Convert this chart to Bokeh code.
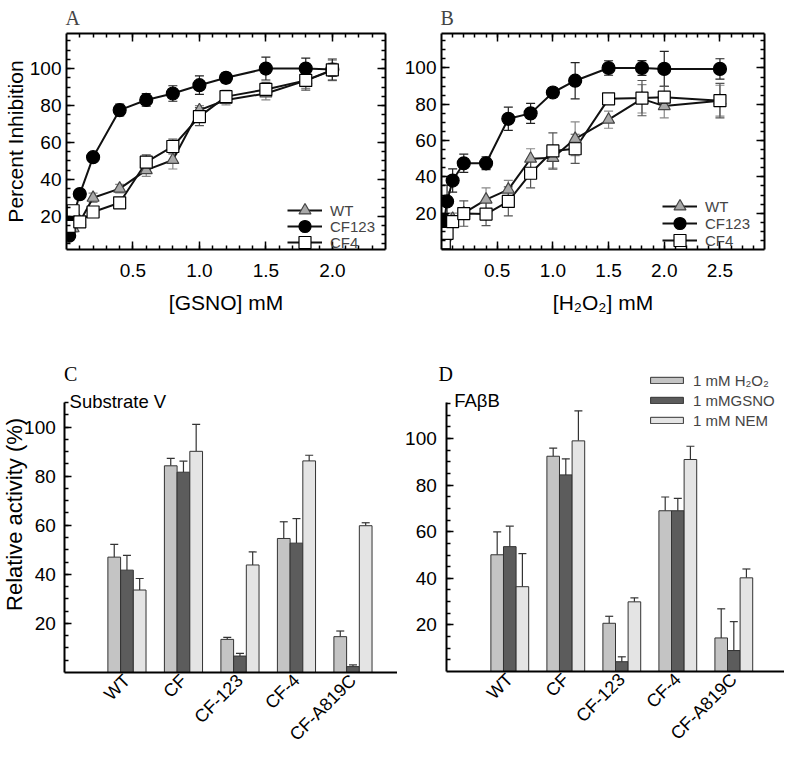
import math
from bokeh.plotting import figure
from bokeh.models import (ColumnDataSource, Whisker, LinearAxis, FixedTicker, Range1d,
                          Legend, LegendItem, Label, CustomJSTickFormatter, TeeHead,
                          PrintfTickFormatter)
from bokeh.layouts import column, row
from bokeh.transform import dodge
from bokeh.embed import file_html
from bokeh.resources import INLINE

# ---------------- data ----------------
# Panel A: [GSNO] mM
a_wt_x = [0.02, 0.05, 0.1, 0.2, 0.4, 0.6, 0.8, 1.0, 1.2, 1.5, 1.8, 2.0]
a_wt_y = [11, 13.5, 17, 30, 35, 45, 50.5, 77.5, 83, 86.5, 93.5, 99]
a_wt_e = [2, 2, 2, 2.5, 2.3, 3.4, 4.9, 2.4, 2.7, 3.5, 4.2, 5.5]
a_cf123_x = [0.02, 0.05, 0.1, 0.2, 0.4, 0.6, 0.8, 1.0, 1.2, 1.5, 1.8, 2.0]
a_cf123_y = [9.5, 19.5, 32, 52, 77.5, 83, 86.5, 91, 95, 100, 100, 99.5]
a_cf123_e = [2, 1.5, 1.5, 1.5, 3.2, 3.4, 4.2, 5, 2.8, 6.2, 5.7, 5.7]
a_cf4_x = [0.02, 0.05, 0.1, 0.2, 0.4, 0.6, 0.8, 1.0, 1.2, 1.5, 1.8, 2.0]
a_cf4_y = [14.5, 23, 17, 22.3, 27.3, 49.3, 57.8, 74, 84.8, 88.7, 93.6, 99.3]
a_cf4_e = [1.5, 2.5, 2, 2.8, 2.7, 4, 4, 4.9, 3.4, 3.8, 5.3, 3.5]

# Panel B: [H2O2] mM
b_wt_x = [0.025, 0.05, 0.1, 0.2, 0.4, 0.6, 0.8, 1.0, 1.2, 1.5, 1.8, 2.0, 2.5]
b_wt_y = [12, 15, 17, 20, 27.5, 33, 50, 50.5, 61, 71.5, 83, 79, 82]
b_wt_e = [3, 3, 3, 3, 6.4, 5.1, 5.5, 5.6, 9.3, 4.7, 7.8, 6.5, 8.5]
b_cf123_x = [0.025, 0.05, 0.1, 0.2, 0.4, 0.6, 0.8, 1.0, 1.2, 1.5, 1.8, 2.0, 2.5]
b_cf123_y = [16, 26.5, 38, 47.5, 47.5, 72, 75, 86.5, 93, 100, 100, 99.5, 99.5]
b_cf123_e = [3, 9, 6.4, 5, 3.5, 6.4, 5.5, 2.6, 10, 4, 4.1, 9.6, 5.6]
b_cf4_x = [0.025, 0.05, 0.1, 0.2, 0.4, 0.6, 0.8, 1.0, 1.2, 1.5, 1.8, 2.0, 2.5]
b_cf4_y = [3.6, 8.9, 15.4, 19.8, 19.5, 26.5, 42, 54.3, 55.5, 83, 83.4, 83.9, 82]
b_cf4_e = [2, 4, 3, 7, 6.4, 8, 8, 10, 8, 1.5, 9.7, 6, 9.5]

# Panels C and D: relative activity (%)
categories = ["WT", "CF", "CF-123", "CF-4", "CF-A819C"]
treatments = ["1 mM H\u2082O\u2082", "1 mMGSNO", "1 mM NEM"]
c_h2o2 = [47, 84.2, 13.5, 54.6, 14.6]
c_h2o2_e = [5.2, 3, 0.8, 6.8, 2.3]
c_gsno = [41.7, 81.6, 6.7, 52.7, 2.4]
c_gsno_e = [6, 4.5, 1.1, 10, 0.7]
c_nem = [33.6, 90.1, 43.8, 86.2, 59.8]
c_nem_e = [4.7, 11, 5.3, 2.3, 1.2]
d_h2o2 = [50.1, 92.4, 20.7, 69, 14.4]
d_h2o2_e = [9.8, 3.5, 3, 5.9, 12.5]
d_gsno = [53.6, 84.4, 4.2, 69, 9]
d_gsno_e = [8.8, 6.9, 2.1, 5.3, 12.4]
d_nem = [36.4, 99, 29.9, 91, 40.2]
d_nem_e = [14.2, 12.9, 1.7, 5.7, 3.8]

# ticks
y_major = [20, 40, 60, 80, 100]
y_minor_ab = list(range(5, 120, 5))
y_minor_c = list(range(5, 111, 5))
y_minor_d = list(range(5, 116, 5))
a_x_major = [0.5, 1.0, 1.5, 2.0]
a_x_minor = [round(0.1 * i, 1) for i in range(1, 24)]
b_x_major = [0.5, 1.0, 1.5, 2.0, 2.5]
b_x_minor = [round(0.1 * i, 1) for i in range(1, 29)]

SANS = "Liberation Sans"
SERIF = "Liberation Serif"


def style_axis(ax, labels=True, tick_size="19px"):
    ax.axis_line_width = 2
    ax.axis_line_color = "black"
    ax.major_tick_in = 8
    ax.major_tick_out = 0
    ax.minor_tick_in = 4
    ax.minor_tick_out = 0
    ax.major_tick_line_width = 1.5
    ax.minor_tick_line_width = 1.5
    ax.major_tick_line_color = "black"
    ax.minor_tick_line_color = "black"
    ax.major_label_text_font = SANS
    ax.major_label_text_font_size = tick_size
    ax.major_label_text_color = "black"
    ax.axis_label_text_font = SANS
    ax.axis_label_text_font_style = "normal"
    ax.axis_label_text_font_size = "21px"
    ax.axis_label_text_color = "black"
    if not labels:
        ax.formatter = CustomJSTickFormatter(code="return ''")
        ax.major_label_standoff = 0


def make_legend(items, loc, **kw):
    return Legend(items=items, location=loc, padding=0, margin=0, spacing=0,
                  label_text_font=SANS, label_text_font_size="15px",
                  border_line_color=None, background_fill_color=None,
                  background_fill_alpha=0, inactive_fill_alpha=0, **kw)


def curve_panel(letter, xr, yr, xlabel, ylabel, width, height, borders,
                xmajor, xminor, series, legend_x, legend_ys, x_std):
    left, right, top, bottom = borders
    p = figure(width=width, height=height, x_range=Range1d(*xr), y_range=Range1d(*yr),
               output_backend="svg", toolbar_location=None,
               min_border_left=left, min_border_right=right,
               min_border_top=top, min_border_bottom=bottom)
    p.grid.visible = False
    p.outline_line_color = None

    p.xaxis.ticker = FixedTicker(ticks=xmajor, minor_ticks=xminor)
    p.yaxis.ticker = FixedTicker(ticks=y_major, minor_ticks=y_minor_ab)
    for ax in p.xaxis:
        style_axis(ax)
        ax.formatter = PrintfTickFormatter(format="%.1f")
        ax.major_label_standoff = 14
        ax.axis_label = xlabel
        ax.axis_label_standoff = x_std
    for ax in p.yaxis:
        style_axis(ax)
        ax.major_label_standoff = 5
        ax.axis_label = ylabel
        ax.axis_label_standoff = 0
    top_ax = LinearAxis(ticker=FixedTicker(ticks=xmajor, minor_ticks=xminor))
    style_axis(top_ax, labels=False)
    p.add_layout(top_ax, "above")
    right_ax = LinearAxis(ticker=FixedTicker(ticks=y_major, minor_ticks=y_minor_ab))
    style_axis(right_ax, labels=False)
    p.add_layout(right_ax, "right")

    p.title.text = letter
    p.title.text_font = SERIF
    p.title.text_font_size = "20px"
    p.title.text_font_style = "normal"
    p.title.align = "left"
    p.title.standoff = 9
    p.title.offset = -1

    srcs = []
    for name, xs, ys, es, marker, size, fill, line, ecol in series:
        src = ColumnDataSource(dict(x=xs, y=ys,
                                    lo=[v - e for v, e in zip(ys, es)],
                                    hi=[v + e for v, e in zip(ys, es)]))
        p.add_layout(Whisker(base="x", lower="lo", upper="hi", source=src,
                             line_color=ecol, line_width=1.2,
                             upper_head=TeeHead(size=9, line_color=ecol, line_width=1.2),
                             lower_head=TeeHead(size=9, line_color=ecol, line_width=1.2)))
        srcs.append(src)
    lines = [p.line("x", "y", source=src, line_color="#111111", line_width=2) for src in srcs]
    legends = []
    for (name, xs, ys, es, marker, size, fill, line, ecol), src, r_line, ly in zip(
            series, srcs, lines, legend_ys):
        r_mark = p.scatter("x", "y", source=src, marker=marker, size=size,
                           fill_color=fill, line_color=line, line_width=1.2)
        legends.append(make_legend([LegendItem(label=name, renderers=[r_line, r_mark])],
                                   (legend_x, ly), glyph_width=35, glyph_height=30,
                                   label_height=18, label_standoff=8))
    # lowest entry first, so that upper entries are drawn on top of nothing of theirs
    for leg in reversed(legends):
        p.add_layout(leg)
    return p


series_a = [
    ("WT", a_wt_x, a_wt_y, a_wt_e, "triangle", 12, "#a8a8a8", "#444444", "#888888"),
    ("CF123", a_cf123_x, a_cf123_y, a_cf123_e, "circle", 13, "black", "black", "#222222"),
    ("CF4", a_cf4_x, a_cf4_y, a_cf4_e, "square", 12, "white", "black", "#555555"),
]
series_b = [
    ("WT", b_wt_x, b_wt_y, b_wt_e, "triangle", 12, "#a8a8a8", "#444444", "#888888"),
    ("CF123", b_cf123_x, b_cf123_y, b_cf123_e, "circle", 13, "black", "black", "#222222"),
    ("CF4", b_cf4_x, b_cf4_y, b_cf4_e, "square", 12, "white", "black", "#555555"),
]

pA = curve_panel("A", (0, 2.4), (2, 119), "[GSNO] mM", "Percent Inhibition",
                 392, 360, (64, 7, 28, 111), a_x_major, a_x_minor, series_a,
                 221, [24, 8, -8], 11)
pB = curve_panel("B", (0, 2.9), (0, 119), "[H\u2082O\u2082] mM", "",
                 392, 360, (49, 20, 28, 108), b_x_major, b_x_minor, series_b,
                 221, [28, 11, -6], 11)


def bar_panel(width, xr, yr, x_axis_start, x_axis_end, y_top, y_minor,
              h2o2, h2o2_e, gsno, gsno_e, nem, nem_e, y_label_standoff,
              texts, legend_loc=None):
    # whole figure is the frame; axes are fixed inside it
    p = figure(width=width, height=388, x_range=Range1d(*xr), y_range=Range1d(*yr),
               output_backend="svg", toolbar_location=None,
               x_axis_location=None, y_axis_location=None,
               min_border_left=0, min_border_right=0, min_border_top=0, min_border_bottom=0)
    p.grid.visible = False
    p.outline_line_color = None

    src = ColumnDataSource(dict(
        x=list(range(1, len(categories) + 1)),
        h2o2=h2o2, h2o2_hi=[v + e for v, e in zip(h2o2, h2o2_e)],
        gsno=gsno, gsno_hi=[v + e for v, e in zip(gsno, gsno_e)],
        nem=nem, nem_hi=[v + e for v, e in zip(nem, nem_e)],
    ))
    bw = 0.225
    cols = [("h2o2", -bw, "#c4c4c4"), ("gsno", 0.0, "#5c5c5c"), ("nem", bw, "#e4e4e4")]
    rends = []
    for key, off, color in cols:
        p.add_layout(Whisker(base=dodge("x", off, range=p.x_range), lower=key,
                             upper=key + "_hi", source=src, line_color="#333333",
                             line_width=1.2,
                             upper_head=TeeHead(size=8, line_color="#333333", line_width=1.2),
                             lower_head=None))
        r = p.vbar(x=dodge("x", off, range=p.x_range), top=key, width=bw, bottom=0,
                   source=src, fill_color=color, line_color="#333333", line_width=1)
        rends.append(r)

    xax = LinearAxis(fixed_location=0, bounds=(x_axis_start, x_axis_end),
                     ticker=FixedTicker(ticks=list(range(1, len(categories) + 1)),
                                        minor_ticks=[]))
    xax.major_label_overrides = {i + 1: c for i, c in enumerate(categories)}
    xax.major_label_orientation = math.pi / 4
    xax.axis_line_width = 2
    xax.axis_line_color = "black"
    xax.major_tick_in = 0
    xax.major_tick_out = 0
    xax.minor_tick_in = 0
    xax.minor_tick_out = 0
    xax.major_label_text_font = SANS
    xax.major_label_text_font_size = "18px"
    xax.major_label_text_color = "black"
    xax.major_label_standoff = 5
    p.add_layout(xax, "below")

    yax = LinearAxis(fixed_location=x_axis_start, bounds=(0, y_top),
                     ticker=FixedTicker(ticks=y_major, minor_ticks=y_minor))
    style_axis(yax)
    yax.major_tick_in = 7
    yax.major_label_standoff = y_label_standoff
    p.add_layout(yax, "left")

    for t in texts:
        p.add_layout(Label(text_color="black", **t))

    if legend_loc is not None:
        p.add_layout(make_legend(
            [LegendItem(label=t, renderers=[r]) for t, r in zip(treatments, rends)],
            legend_loc, glyph_width=41, glyph_height=8, label_height=20, label_standoff=6))
    return p


# panel letters / subtitles / y title positioned in data units of each bar panel
texts_c = [
    dict(x=-0.115, y=121.8, text="C", text_font=SERIF, text_font_size="20px",
         text_baseline="alphabetic", text_align="left"),
    dict(x=-0.016, y=110.6, text="Substrate V", text_font=SANS, text_font_size="18.5px",
         text_baseline="alphabetic", text_align="left"),
    dict(x=-0.995, y=64.4, text="Relative activity (%)", text_font=SANS,
         text_font_size="22px", text_baseline="middle", text_align="center",
         angle=math.pi / 2),
]
texts_d = [
    dict(x=-0.273, y=127.9, text="D", text_font=SERIF, text_font_size="20px",
         text_baseline="alphabetic", text_align="left"),
    dict(x=0.007, y=116.4, text="FA\u03b2B", text_font=SANS, text_font_size="18.5px",
         text_baseline="alphabetic", text_align="left"),
]

pC = bar_panel(397, (-1.238, 5.788), (-30.96, 127.1), -0.1, 5.79, 110, y_minor_c,
               c_h2o2, c_h2o2_e, c_gsno, c_gsno_e, c_nem, c_nem_e, 9, texts_c)
pD = bar_panel(387, (-1.005, 5.905), (-33.06, 133.5), -0.125, 5.905, 115.5, y_minor_d,
               d_h2o2, d_h2o2_e, d_gsno, d_gsno_e, d_nem, d_nem_e, 10, texts_d,
               legend_loc=(249, 318))

layout = column(row(pA, pB), row(pC, pD))
open("out.html", "w").write(file_html(layout, INLINE))
